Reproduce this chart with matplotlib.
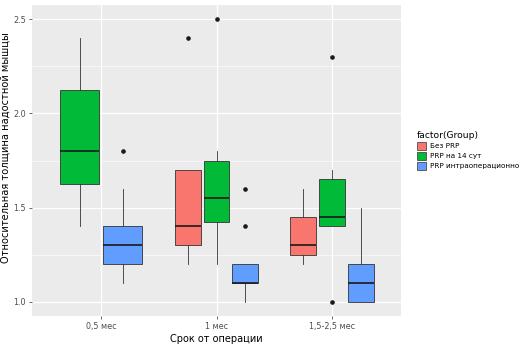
import numpy as np
import matplotlib as mpl
mpl.use('Agg')
import matplotlib.pyplot as plt
from matplotlib.patches import Patch

categories = ['0,5 мес', '1 мес', '1,5-2,5 мес']
groups = ['Без PRP', 'PRP на 14 сут', 'PRP интраоперационно']
colors = ['#F8766D', '#00BA38', '#619CFF']

# box stats per (category, group): whislo, q1, med, q3, whishi, fliers
cat_idx = [0, 0, 1, 1, 1, 2, 2, 2]
grp_idx = [1, 2, 0, 1, 2, 0, 1, 2]
whislo = [1.4, 1.1, 1.2, 1.2, 1.0, 1.2, 1.4, 1.0]
q1 = [1.625, 1.2, 1.3, 1.425, 1.1, 1.25, 1.4, 1.0]
med = [1.8, 1.3, 1.4, 1.55, 1.1, 1.3, 1.45, 1.1]
q3 = [2.125, 1.4, 1.7, 1.75, 1.2, 1.45, 1.65, 1.2]
whishi = [2.4, 1.6, 1.7, 1.8, 1.2, 1.6, 1.7, 1.5]
fliers = [[], [1.8], [2.4], [2.5], [1.6, 1.4], [], [2.3, 1.0], []]

fig = plt.figure(figsize=(5.31, 3.48), dpi=100)
ax = fig.add_axes([32/531, 1-316/348, (401-32)/531, (316-5)/348])
ax.set_facecolor('#EBEBEB')

for i in range(len(cat_idx)):
    c = cat_idx[i]
    n = sum(1 for k in cat_idx if k == c)
    slot = 0.75 / n
    pos_in = [j for j in range(len(cat_idx)) if cat_idx[j] == c].index(i)
    x = (c + 1) - 0.375 + slot * (pos_in + 0.5)
    st = dict(whislo=whislo[i], q1=q1[i], med=med[i], q3=q3[i],
              whishi=whishi[i], fliers=fliers[i])
    ax.bxp([st], positions=[x], widths=slot * 0.9, patch_artist=True,
           showcaps=False,
           boxprops=dict(facecolor=colors[grp_idx[i]], edgecolor='#333333', linewidth=0.6),
           medianprops=dict(color='#1a1a1a', linewidth=1.2),
           whiskerprops=dict(color='#333333', linewidth=0.6),
           flierprops=dict(marker='o', markersize=2.3, markerfacecolor='#1a1a1a',
                           markeredgecolor='#1a1a1a'))

ax.set_xlim(0.4, 3.6)
ax.set_ylim(0.925, 2.575)
ax.set_xticks([1, 2, 3])
ax.set_xticklabels(categories)
ax.set_yticks([1.0, 1.5, 2.0, 2.5])
ax.set_yticklabels(['1.0', '1.5', '2.0', '2.5'])
ax.set_yticks([1.25, 1.75, 2.25], minor=True)
ax.set_axisbelow(True)
ax.grid(True, which='major', color='white', linewidth=0.9)
ax.grid(True, which='minor', axis='y', color='white', linewidth=0.45)
for s in ax.spines.values():
    s.set_visible(False)
ax.tick_params(axis='both', which='major', labelsize=5.8, colors='#4D4D4D',
               length=2.5, width=0.6, pad=2)
ax.tick_params(axis='y', which='minor', length=0)
ax.set_xlabel('Срок от операции', fontsize=7, labelpad=2)
ax.set_ylabel('Относительная толщина надостной мышцы', fontsize=7.1)
ax.yaxis.set_label_coords(-0.058, 0.54)

handles = [Patch(facecolor=colors[k], edgecolor='#333333', linewidth=0.5, label=groups[k])
           for k in range(3)]
leg = fig.legend(handles=handles, title='factor(Group)', loc='upper left',
                 bbox_to_anchor=(410/531, 1-124/348), frameon=False, fontsize=5.2,
                 title_fontsize=6.6, handlelength=1.3, handleheight=1.3,
                 handletextpad=0.5, labelspacing=0.3)
leg._legend_box.align = 'left'

plt.savefig('out.png', dpi=100)
